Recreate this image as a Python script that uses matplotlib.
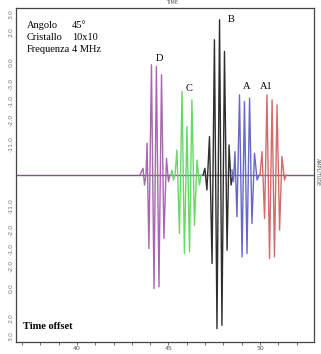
import matplotlib
matplotlib.use("Agg")
import matplotlib.pyplot as plt
from matplotlib.ticker import FixedLocator, FixedFormatter, MultipleLocator

# echo bursts: times of the extrema (us) and normalised amplitudes
d_t = [43.44, 43.61, 43.69, 43.77, 43.83, 43.93, 44.07, 44.21, 44.34, 44.48, 44.62, 44.75, 44.89, 45.00, 45.08]
d_a = [0.0, 0.04, -0.06, 0.0, 0.19, -0.44, 0.66, -0.68, 0.65, -0.67, 0.60, -0.38, 0.10, -0.04, 0.0]

c_t = [45.14, 45.19, 45.27, 45.36, 45.46, 45.60, 45.74, 45.87, 46.01, 46.15, 46.28, 46.42, 46.56, 46.69, 46.78]
c_a = [0.0, 0.03, -0.03, 0.0, 0.15, -0.35, 0.50, -0.47, 0.29, -0.46, 0.45, -0.30, 0.09, -0.06, 0.0]

b_t = [46.89, 46.99, 47.10, 47.24, 47.38, 47.51, 47.65, 47.79, 47.92, 48.06, 48.20, 48.31, 48.42, 48.52]
b_a = [0.0, 0.04, -0.09, 0.23, -0.53, 0.81, -0.92, 0.93, -0.90, 0.74, -0.45, 0.18, -0.06, 0.0]

a_t = [48.47, 48.55, 48.63, 48.74, 48.88, 49.02, 49.15, 49.29, 49.43, 49.56, 49.70, 49.84, 49.95]
a_a = [0.03, -0.04, 0.14, -0.25, 0.48, -0.49, 0.44, -0.47, 0.46, -0.29, 0.13, -0.03, 0.0]

a1_t = [50.00, 50.11, 50.25, 50.38, 50.52, 50.66, 50.79, 50.93, 51.07, 51.20, 51.34, 51.42]
a1_a = [0.0, 0.14, -0.26, 0.48, -0.50, 0.45, -0.49, 0.42, -0.33, 0.11, -0.03, 0.0]

# odd amplitude scale as printed on the scan
ytick_pos = [0.964, 0.856, 0.677, 0.545, 0.443, 0.329, 0.186,
             -0.186, -0.329, -0.443, -0.545, -0.677, -0.856, -0.964]
ytick_lab = ["3.0", "2.0", "0.0", "-3.0", "-1.0", "-2.0", "-11.0",
             "-11.0", "-2.0", "-1.0", "-2.0", "0.0", "2.0", "3.0"]

info_keys = ["Angolo", "Cristallo", "Frequenza"]
info_vals = ["45°", "10x10", "4 MHz"]

fig = plt.figure(figsize=(3.21, 3.54), dpi=100)
ax = fig.add_axes([16 / 321, 12 / 354, 298 / 321, 334 / 354])

ax.axhline(0, color="#7a5a88", lw=1.0, zorder=1)
ax.plot(d_t, d_a, color="#a866b0", lw=1.0)
ax.plot(c_t, c_a, color="#66d966", lw=1.0)
ax.plot(b_t, b_a, color="#2e2e2e", lw=1.0)
ax.plot(a_t, a_a, color="#6868c8", lw=1.0)
ax.plot(a1_t, a1_a, color="#d06c6c", lw=1.0)

serif = "Liberation Serif"
ax.text(44.48, 0.70, "D", family=serif, fontsize=7.5, ha="center", va="center")
ax.text(46.12, 0.52, "C", family=serif, fontsize=7.5, ha="center", va="center")
ax.text(48.42, 0.93, "B", family=serif, fontsize=7.5, ha="center", va="center")
ax.text(49.29, 0.53, "A", family=serif, fontsize=7.5, ha="center", va="center")
ax.text(50.33, 0.53, "A1", family=serif, fontsize=7.5, ha="center", va="center")

for i, (k, v) in enumerate(zip(info_keys, info_vals)):
    y = 0.948 - i * 0.036
    ax.text(0.037, y, k, transform=ax.transAxes, family=serif, fontsize=7.5, va="center")
    ax.text(0.188, y, v, transform=ax.transAxes, family=serif, fontsize=7.5, va="center")

ax.text(0.024, 0.045, "Time offset", transform=ax.transAxes, family=serif,
        fontsize=7.5, fontweight="bold", va="center")

ax.set_xlim(36.67, 52.95)
ax.set_ylim(-1.0, 1.0)
ax.xaxis.set_major_locator(FixedLocator([40, 45, 50]))
ax.xaxis.set_minor_locator(MultipleLocator(1))
ax.yaxis.set_major_locator(FixedLocator(ytick_pos))
ax.yaxis.set_major_formatter(FixedFormatter(ytick_lab))
ax.tick_params(axis="x", which="both", length=2, width=0.6, labelsize=4.5, pad=1, colors="#555555")
ax.tick_params(axis="y", length=0, labelsize=4.5, pad=2, colors="#777777", labelrotation=90)
for lab in ax.get_yticklabels():
    lab.set_va("center")

for s in ax.spines.values():
    s.set_color("#444444")
    s.set_linewidth(0.9)

fig.text(172 / 321, 1 - 3 / 354, "TIME", fontsize=3.5, ha="center", va="center", color="#555555")
fig.text(317 / 321, 1 - 172 / 354, "AMPLITUDE", fontsize=3.5, rotation=270,
         ha="center", va="center", color="#555555")

fig.savefig("out.png", dpi=100)
